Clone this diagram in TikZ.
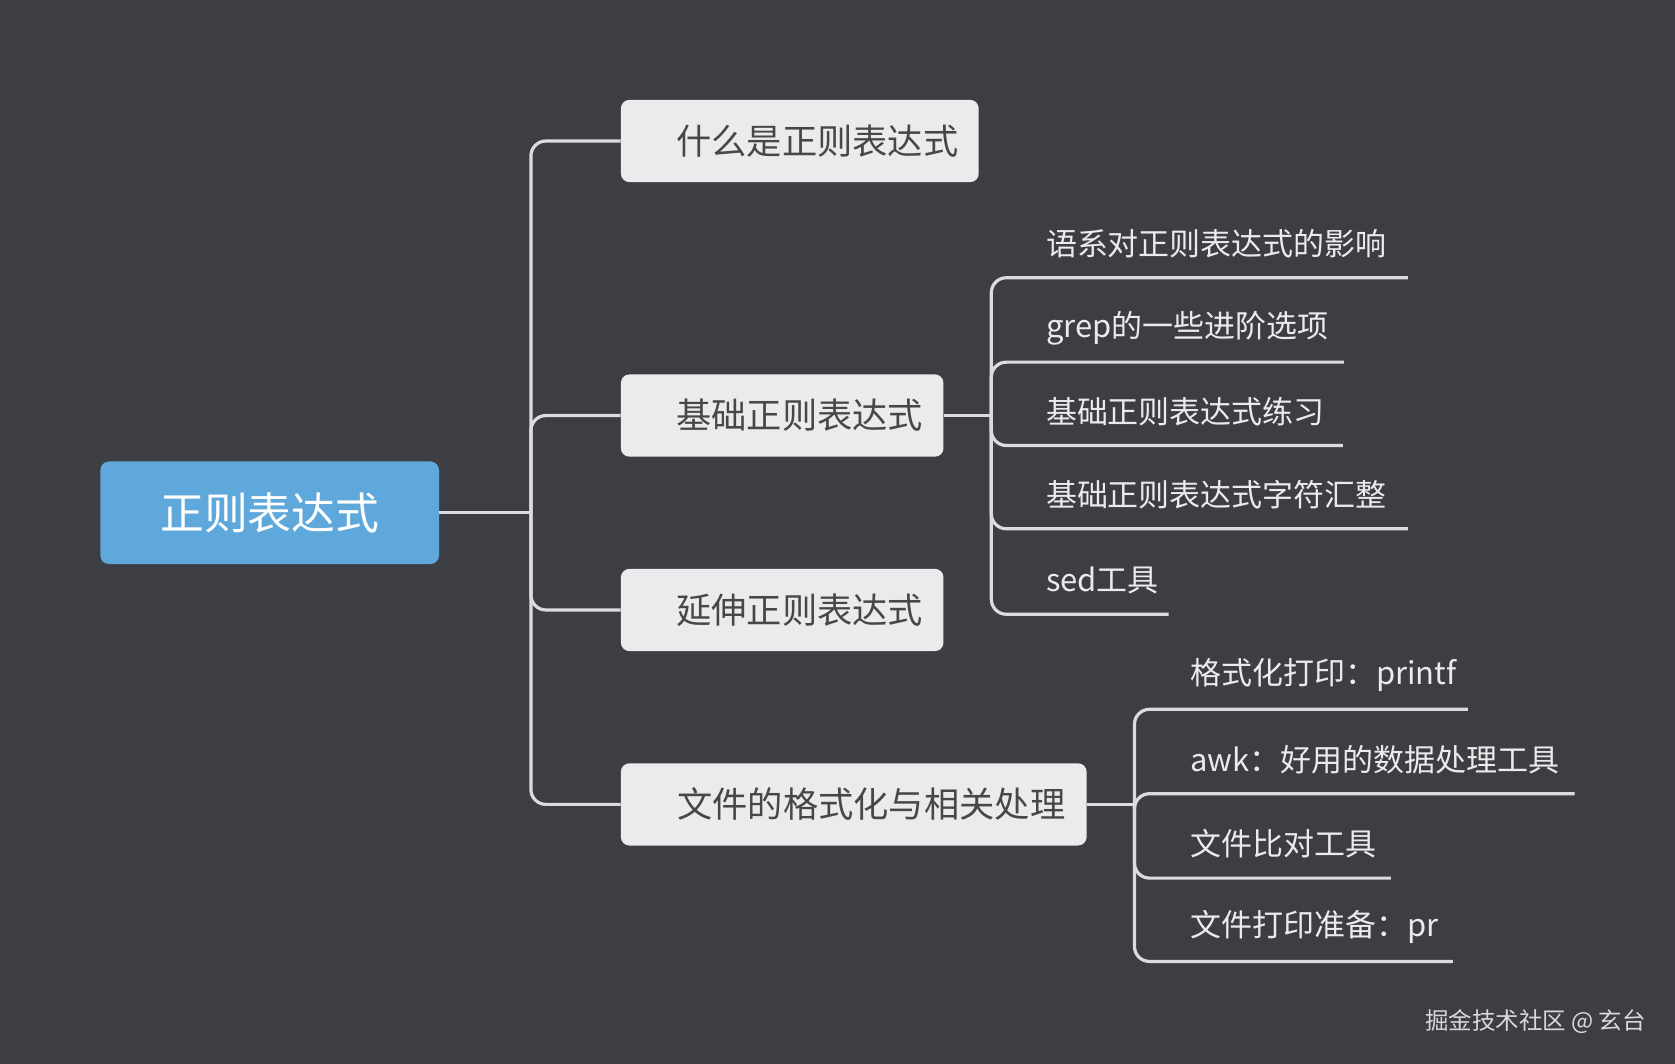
\documentclass[tikz,border=0pt]{standalone}
\usepackage{fontspec}
\setmainfont{Noto Sans CJK SC}
\begin{document}
\begin{tikzpicture}[x=1pt,y=-1pt,
  conn/.style={draw=lineC,line width=3pt,rounded corners=14pt},
  box/.style={fill=boxC,rounded corners=8pt,text=txtC,font=\fontsize{33}{36}\selectfont,inner sep=0pt,anchor=west},
  leaf/.style={text=white!92!black,font=\fontsize{29}{32}\selectfont,inner sep=0pt,anchor=west}]
\definecolor{bgC}{HTML}{3D3E43}
\definecolor{rootC}{HTML}{5FA8DC}
\definecolor{boxC}{HTML}{EBEBED}
\definecolor{txtC}{HTML}{474747}
\definecolor{lineC}{HTML}{DCDCDE}
\fill[bgC] (0,0) rectangle (1568,996);
\useasboundingbox (0,0) rectangle (1568,996);
% root
\node[fill=rootC,rounded corners=8pt,minimum width=317pt,minimum height=96pt,inner sep=0pt,text=white,font=\fontsize{41}{44}\selectfont] (root) at (252.5,480) {正则表达式};
% boxes
\node[box,minimum width=335pt,minimum height=77pt] (b1) at (581,132) {\hspace*{33pt}什么是正则表达式\hfill};
\node[box,minimum width=302pt,minimum height=77pt] (b2) at (581,389) {\hspace*{33pt}基础正则表达式\hfill};
\node[box,minimum width=302pt,minimum height=77pt] (b3) at (581,571) {\hspace*{33pt}延伸正则表达式\hfill};
\node[box,minimum width=436pt,minimum height=77pt] (b4) at (581,753) {\hspace*{33pt}文件的格式化与相关处理\hfill};
\coordinate (t) at (497,480);
\draw[conn] (root.east) -- (t);
\foreach \b in {b1,b2,b3,b4}{\draw[conn] (t) |- (\b.west);}
% leaves of b2
\coordinate (v2) at (928,389);
\draw[conn] (b2.east) -- (v2);
\foreach \y/\e/\t [count=\i] in {260/1318/语系对正则表达式的影响,339/1258/grep的一些进阶选项,417/1257/基础正则表达式练习,495/1318/基础正则表达式字符汇整,575/1094/sed工具}{
  \node[leaf] (l2\i) at (979,\y-32) {\t};
  \coordinate (e2\i) at (\e,\y);
  \draw[conn] (v2) |- (e2\i);
}
% leaves of b4
\coordinate (v4) at (1062,753);
\draw[conn] (b4.east) -- (v4);
\foreach \y/\e/\t [count=\i] in {664/1374/格式化打印：printf,743/1474/awk：好用的数据处理工具,822/1302/文件比对工具,900/1360/文件打印准备：pr}{
  \node[leaf] (l4\i) at (1114,\y-32) {\t};
  \coordinate (e4\i) at (\e,\y);
  \draw[conn] (v4) |- (e4\i);
}
\node[anchor=east,inner sep=0pt,text=white!85!black,font=\fontsize{22}{24}\selectfont] (wm) at (1541,956) {掘金技术社区 @ 玄台};
\end{tikzpicture}
\end{document}
